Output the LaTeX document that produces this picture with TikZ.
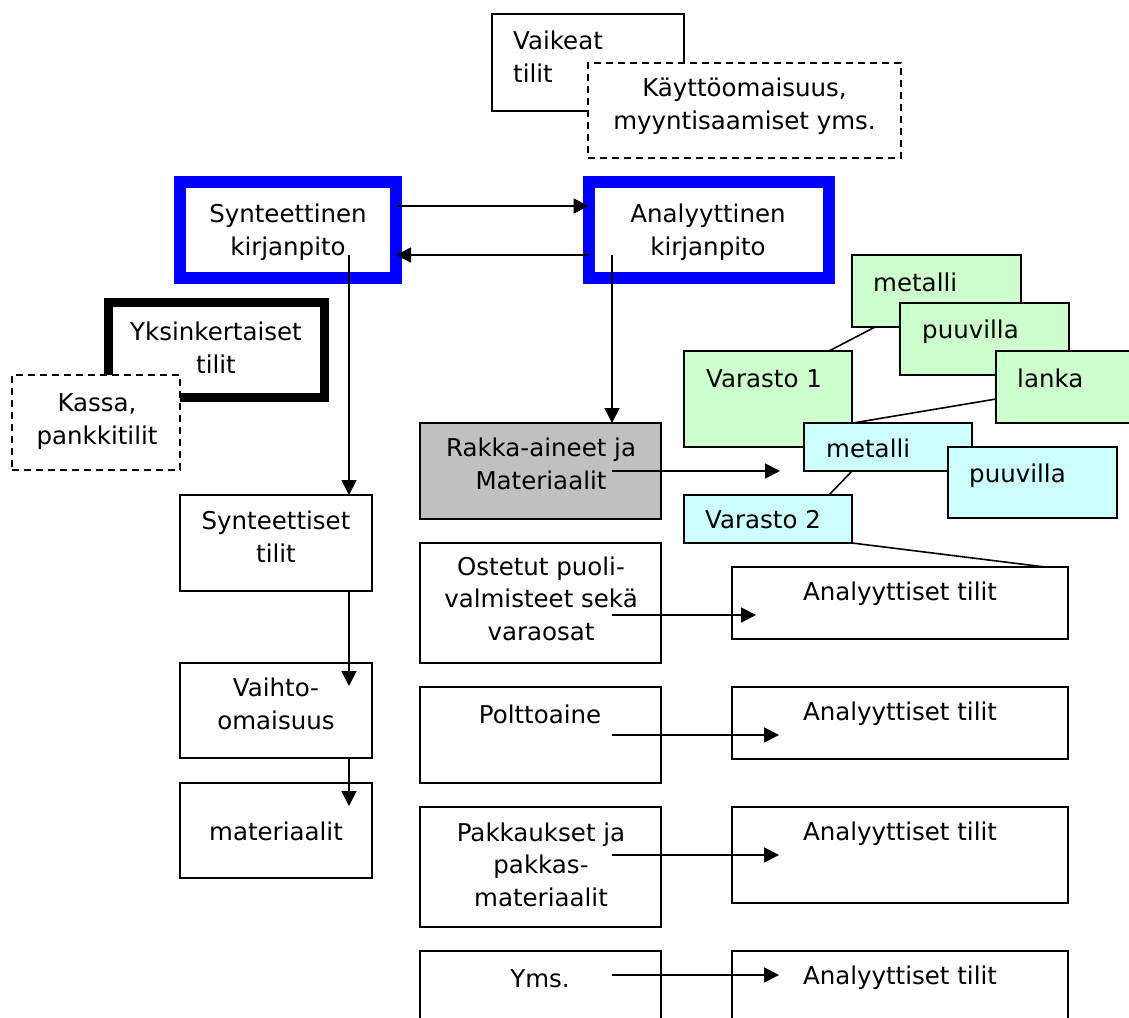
\documentclass[tikz,border=0pt]{standalone}
\usepackage{fontspec}
\setmainfont{DejaVu Sans}
\usetikzlibrary{arrows.meta}
\definecolor{frameblue}{HTML}{0000FF}
\definecolor{stockgreen}{HTML}{CCFFCC}
\definecolor{stockcyan}{HTML}{CCFFFF}
\definecolor{rawgray}{HTML}{C0C0C0}
\newcommand\boxfont{\fontsize{24.5}{32.5}\selectfont}

\begin{document}
\begin{tikzpicture}[x=1pt,y=-1pt,
  plain/.style={draw=black, line width=1.6pt, fill=white, rectangle,
                inner sep=0pt, outer sep=0pt},
  dashedbox/.style={plain, dash pattern=on 7pt off 5pt, line width=1.5pt},
  ledger/.style={plain, draw=frameblue, line width=12pt},
  heavy/.style={plain, line width=9pt},
  greenbox/.style={plain, fill=stockgreen},
  cyanbox/.style={plain, fill=stockcyan},
  graybox/.style={plain, fill=rawgray},
  % multi-line labels are placed by the baseline of their last line
  txt/.style={inner sep=0pt, font=\boxfont, align=center, anchor=base},
  ltxt/.style={txt, align=left, anchor=base west},
  arr/.style={line width=1.8pt, -{Triangle[length=15pt,width=15pt]}},
  link/.style={line width=1.6pt}
]
\useasboundingbox (0,0) rectangle (1129,1017);

% --- difficult accounts (top) ---
\node[plain, minimum width=192pt, minimum height=97pt] (vaik) at (588,62.5) {};
\node[ltxt] (t-vaik) at (513,82) {Vaikeat\\tilit};
\node[dashedbox, minimum width=313pt, minimum height=95pt] (kaytto) at (744.5,110.5) {};
\node[txt] (t-kaytto) at (744.5,129) {Käyttöomaisuus,\\myyntisaamiset yms.};

% --- the two bookkeeping levels ---
\node[ledger, minimum width=216pt, minimum height=96pt] (synt) at (288,230) {};
\node[txt] (t-synt) at (288,255) {Synteettinen\\kirjanpito};
\node[ledger, minimum width=240.5pt, minimum height=96pt] (anal) at (708.75,230) {};
\node[txt] (t-anal) at (708,255) {Analyyttinen\\kirjanpito};

% --- simple accounts ---
\node[heavy, minimum width=216pt, minimum height=95pt] (yks) at (216.5,350) {};
\node[txt] (t-yks) at (216,373) {Yksinkertaiset\\tilit};
\node[dashedbox, minimum width=168pt, minimum height=95pt] (kassa) at (96,422.5) {};
\node[txt] (t-kassa) at (97,444) {Kassa,\\pankkitilit};

% --- synthetic chain ---
\node[plain, minimum width=192pt, minimum height=96pt] (stil) at (276,543) {};
\node[txt] (t-stil) at (276,562) {Synteettiset\\tilit};
\node[plain, minimum width=192pt, minimum height=95pt] (vaihto) at (276,710.5) {};
\node[txt] (t-vaihto) at (276,729) {Vaihto-\\omaisuus};
\node[plain, minimum width=192pt, minimum height=95pt] (mater) at (276,830.5) {};
\node[txt] (t-mater) at (276,840) {materiaalit};

% --- material groups ---
\node[graybox, minimum width=241pt, minimum height=96pt] (rakka) at (540.5,471) {};
\node[txt] (t-rakka) at (541,489) {Rakka-aineet ja\\Materiaalit};
\node[plain, minimum width=241pt, minimum height=120pt] (ostet) at (540.5,603) {};
\node[txt] (t-ostet) at (541,640) {Ostetut puoli-\\valmisteet sekä\\varaosat};
\node[plain, minimum width=241pt, minimum height=96pt] (poltto) at (540.5,735) {};
\node[txt] (t-poltto) at (540,723) {Polttoaine};
\node[plain, minimum width=241pt, minimum height=120pt] (pakk) at (540.5,867) {};
\node[txt] (t-pakk) at (541,906) {Pakkaukset ja\\pakkas-\\materiaalit};
\node[plain, minimum width=241pt, minimum height=96pt] (yms) at (540.5,999) {};
\node[txt] (t-yms) at (540,987) {Yms.};

% --- analytic accounts ---
\node[plain, minimum width=336pt, minimum height=72pt] (an1) at (900,603) {};
\node[txt] (t-an1) at (900,600) {Analyyttiset tilit};
\node[plain, minimum width=336pt, minimum height=72pt] (an2) at (900,723) {};
\node[txt] (t-an2) at (900,720) {Analyyttiset tilit};
\node[plain, minimum width=336pt, minimum height=96pt] (an3) at (900,855) {};
\node[txt] (t-an3) at (900,840) {Analyyttiset tilit};
\node[plain, minimum width=336pt, minimum height=96pt] (an4) at (900,999) {};
\node[txt] (t-an4) at (900,984) {Analyyttiset tilit};

% --- warehouse 1 ---
\node[greenbox, minimum width=169pt, minimum height=72pt] (met1) at (936.5,291) {};
\node[ltxt] (t-met1) at (873,291) {metalli};
\node[greenbox, minimum width=169pt, minimum height=72pt] (puu1) at (984.5,339) {};
\node[ltxt] (t-puu1) at (922,338) {puuvilla};
\node[greenbox, minimum width=169pt, minimum height=72pt] (lanka) at (1080.5,387) {};
\node[ltxt] (t-lanka) at (1017,387) {lanka};
\node[greenbox, minimum width=168pt, minimum height=96pt] (var1) at (768,399) {};
\node[ltxt] (t-var1) at (706,387) {Varasto 1};

% --- warehouse 2 ---
\node[cyanbox, minimum width=168pt, minimum height=48pt] (met2) at (888,447) {};
\node[ltxt] (t-met2) at (826,457) {metalli};
\node[cyanbox, minimum width=169pt, minimum height=71pt] (puu2) at (1032.5,482.5) {};
\node[ltxt] (t-puu2) at (969,482) {puuvilla};
\node[cyanbox, minimum width=168pt, minimum height=48pt] (var2) at (768,519) {};
\node[ltxt] (t-var2) at (705,528) {Varasto 2};

% --- link points ---
\coordinate (m1f) at (875,327);
\coordinate (v1h) at (829,351);
\coordinate (lkf) at (996,399);
\coordinate (m2h) at (853,423);
\coordinate (m2f) at (852,471);
\coordinate (v2h) at (829,495);
\coordinate (an1h) at (1045,567);

\draw[link] (m1f) -- (v1h);
\draw[link] (lkf) -- (m2h);
\draw[link] (m2f) -- (v2h);
\draw[link] (var2.south east) -- (an1h);

% --- arrow start points ---
\coordinate (s-top) at (397,206);
\coordinate (a-bot) at (589,255);
\coordinate (s-down) at (349,255);
\coordinate (a-down) at (612,255);
\coordinate (st-down) at (349,591);
\coordinate (vh-down) at (349,758);
\coordinate (r-out) at (612,471);
\coordinate (o-out) at (612,615);
\coordinate (p-out) at (612,735);
\coordinate (k-out) at (612,855);
\coordinate (y-out) at (612,975);
% arrow tips that end inside a box
\coordinate (vh-tip) at (349,686);
\coordinate (ma-tip) at (349,806);
\coordinate (r-tip) at (780,471);
\coordinate (o-tip) at (756,615);
\coordinate (p-tip) at (779,735);
\coordinate (k-tip) at (779,855);
\coordinate (y-tip) at (779,975);

\draw[arr] (s-top) -- (s-top -| anal.west);
\draw[arr] (a-bot) -- (a-bot -| synt.east);
\draw[arr] (s-down) -- (s-down |- stil.north);
\draw[arr] (a-down) -- (a-down |- rakka.north);
\draw[arr] (st-down) -- (vh-tip);
\draw[arr] (vh-down) -- (ma-tip);
\draw[arr] (r-out) -- (r-tip);
\draw[arr] (o-out) -- (o-tip);
\draw[arr] (p-out) -- (p-tip);
\draw[arr] (k-out) -- (k-tip);
\draw[arr] (y-out) -- (y-tip);
\end{tikzpicture}
\end{document}
